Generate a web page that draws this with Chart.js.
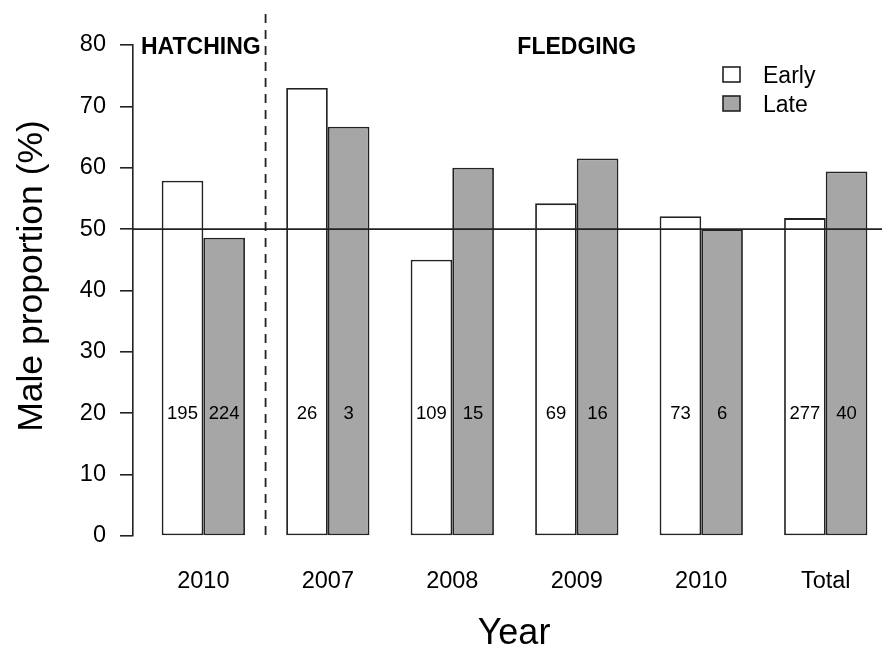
<!DOCTYPE html>
<html>
<head>
<meta charset="utf-8">
<script src="https://cdn.jsdelivr.net/npm/chart.js@4.4.1/dist/chart.umd.min.js"></script>
<style>
  body { margin: 0; background: #fff; }
  #wrap { width: 882px; height: 647px; }
</style>
</head>
<body>
<div id="wrap"><canvas id="chart"></canvas></div>
<script>
const groups = ['2010', '2007', '2008', '2009', '2010', 'Total']
const early = [57.9, 73.0, 45.0, 54.2, 52.1, 51.8]
const late = [48.6, 66.7, 60.0, 61.5, 50.0, 59.4]
const earlyN = [195, 26, 109, 69, 73, 277]
const lateN = [224, 3, 15, 16, 6, 40]
const yTicks = [0, 10, 20, 30, 40, 50, 60, 70, 80]

const FONT = '"Liberation Sans", Arial, sans-serif'
const INK = '#222'

const extras = {
  id: 'extras',
  afterDatasetsDraw(chart) {
    const ctx = chart.ctx
    const x = chart.scales.x, y = chart.scales.y
    const area = chart.chartArea
    ctx.save()
    // sample sizes inside the bars
    ctx.fillStyle = '#000'
    ctx.font = '18.5px ' + FONT
    ctx.textAlign = 'center'
    ctx.textBaseline = 'middle'
    const yN = y.getPixelForValue(20) + 1
    ;[earlyN, lateN].forEach((ns, d) => {
      chart.getDatasetMeta(d).data.forEach((bar, i) => {
        ctx.fillText(String(ns[i]), bar.x, yN)
      })
    })
    // reference line at 50 %
    ctx.strokeStyle = INK
    ctx.lineWidth = 1.6
    ctx.beginPath()
    const y50 = y.getPixelForValue(50)
    ctx.moveTo(area.left, y50)
    ctx.lineTo(area.right, y50)
    ctx.stroke()
    // hatching / fledging divider
    const xd = x.getPixelForValue(0.5)
    ctx.setLineDash([9, 7])
    ctx.lineWidth = 1.8
    ctx.beginPath()
    ctx.moveTo(xd, 14)
    ctx.lineTo(xd, area.bottom)
    ctx.stroke()
    ctx.restore()
  },
  afterDraw(chart) {
    const ctx = chart.ctx
    const x = chart.scales.x
    ctx.save()
    ctx.fillStyle = '#000'
    ctx.textAlign = 'center'
    ctx.textBaseline = 'alphabetic'
    ctx.font = 'bold 23px ' + FONT
    ctx.fillText('HATCHING', x.getPixelForValue(-0.02), 54)
    ctx.fillText('FLEDGING', x.getPixelForValue(3), 54)
    // axis titles
    ctx.font = '36px ' + FONT
    ctx.fillText('Year', 514, 644)
    ctx.save()
    ctx.translate(42, 276)
    ctx.rotate(-Math.PI / 2)
    ctx.font = '35.5px ' + FONT
    ctx.fillText('Male proportion (%)', 0, 0)
    ctx.restore()
    // legend
    ctx.font = '23px ' + FONT
    ctx.textAlign = 'left'
    chart.data.datasets.forEach((ds, i) => {
      const top = 67 + i * 29
      ctx.fillStyle = ds.backgroundColor
      ctx.fillRect(723, top, 17, 15)
      ctx.strokeStyle = INK
      ctx.lineWidth = 1.6
      ctx.strokeRect(723, top, 17, 15)
      ctx.fillStyle = '#000'
      ctx.fillText(ds.label, 763, top + 16)
    })
    ctx.restore()
  }
}

new Chart(document.getElementById('chart'), {
  type: 'bar',
  data: {
    datasets: [
      {
        label: 'Early',
        data: early.map((v, i) => ({ x: i, y: v })),
        backgroundColor: '#ffffff',
        borderColor: INK,
        borderWidth: 1.8,
        borderSkipped: false
      },
      {
        label: 'Late',
        data: late.map((v, i) => ({ x: i, y: v })),
        backgroundColor: '#a6a6a6',
        borderColor: INK,
        borderWidth: 1.8,
        borderSkipped: false
      }
    ]
  },
  options: {
    responsive: true,
    maintainAspectRatio: false,
    animation: false,
    categoryPercentage: 0.669,
    barPercentage: 1,
    layout: { padding: { top: 45, right: 0, left: 0, bottom: 0 } },
    plugins: {
      legend: { display: false },
      tooltip: { enabled: false }
    },
    scales: {
      x: {
        type: 'linear',
        offset: false,
        min: -0.565,
        max: 5.452,
        grid: { display: false },
        border: { display: false },
        afterBuildTicks: (scale) => { scale.ticks = groups.map((g, i) => ({ value: i })) },
        afterFit: (scale) => { scale.height = 111 },
        ticks: {
          padding: 23,
          color: '#000',
          font: { family: FONT, size: 23.5 },
          maxRotation: 0,
          autoSkip: false,
          callback: (v) => groups[v]
        }
      },
      y: {
        min: 0,
        max: 80,
        afterBuildTicks: (scale) => { scale.ticks = yTicks.map(v => ({ value: v })) },
        afterFit: (scale) => { scale.width = 133 },
        grid: {
          drawOnChartArea: false,
          tickLength: 13,
          color: INK,
          lineWidth: 1.6
        },
        border: { display: true, color: INK, width: 1.6 },
        ticks: {
          padding: 14,
          color: '#000',
          font: { family: FONT, size: 23.5 }
        }
      }
    }
  },
  plugins: [extras]
})
</script>
</body>
</html>
